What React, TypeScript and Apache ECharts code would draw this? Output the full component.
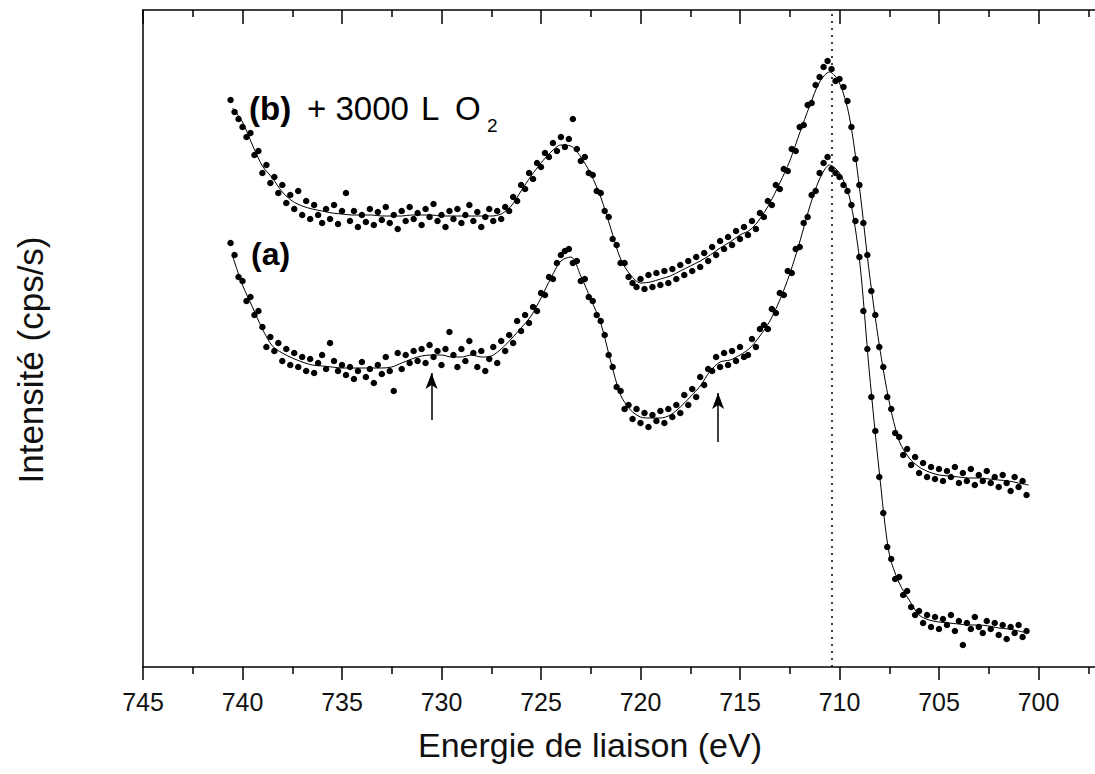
import React, { useEffect, useRef } from "react";
import * as echarts from "echarts";

// Energy sampling of the measured spectra (eV)
const E_START = 740.6;
const E_STEP = 0.2;

// Measured points, spectrum (a) (arbitrary intensity units)
const pointsA = [
  424, 412, 390, 386, 366, 370, 352, 356, 340, 320,
  330, 316, 324, 306, 318, 302, 314, 300, 310, 296,
  308, 294, 304, 312, 298, 324, 306, 296, 302, 292,
  300, 288, 296, 305, 290, 298, 284, 302, 293, 310,
  296, 276, 314, 298, 312, 304, 316, 306, 318, 304,
  322, 310, 316, 302, 318, 335, 312, 300, 318, 306,
  326, 314, 300, 316, 296, 308, 320, 304, 326, 316,
  332, 324, 346, 336, 352, 344, 360, 356, 374, 372,
  390, 388, 404, 412, 416, 418, 404, 406, 386, 388,
  370, 366, 352, 346, 332, 312, 300, 280, 276, 258,
  262, 248, 258, 244, 254, 240, 252, 246, 256, 244,
  258, 250, 262, 254, 272, 262, 278, 270, 290, 282,
  298, 296, 310, 300, 314, 302, 316, 306, 320, 310,
  312, 328, 320, 338, 342, 338, 358, 354, 374, 372,
  396, 394, 418, 420, 444, 450, 472, 476, 494, 504,
  510, 498, 494, 490, 482, 476, 462, 446, 410, 356,
  318, 270, 236, 190, 154, 120, 108, 88, 90, 72,
  76, 60, 52, 56, 44, 52, 40, 50, 38, 48,
  42, 52, 36, 46, 22, 44, 38, 50, 40, 34,
  46, 38, 44, 32, 42, 28, 40, 34, 42, 30,
  36,
];

// Measured points, spectrum (b) + 3000 L O2
const pointsB = [
  567, 555, 548, 540, 530, 534, 512, 516, 494, 502,
  484, 490, 474, 482, 464, 472, 458, 476, 452, 466,
  448, 462, 452, 444, 458, 448, 462, 443, 456, 474,
  446, 456, 440, 452, 445, 458, 442, 455, 447, 460,
  444, 452, 438, 456, 446, 460, 448, 454, 442, 458,
  450, 463, 446, 452, 440, 456, 448, 458, 444, 452,
  462, 446, 455, 440, 450, 458, 446, 456, 448, 460,
  456, 470, 466, 482, 478, 494, 488, 504, 500, 514,
  510, 524, 516, 530, 520, 528, 548, 518, 506, 510,
  494, 492, 476, 474, 456, 450, 428, 422, 404, 404,
  390, 384, 380, 388, 378, 392, 380, 394, 382, 396,
  384, 398, 388, 402, 392, 406, 396, 410, 400, 414,
  406, 420, 412, 426, 418, 430, 422, 436, 428, 440,
  432, 446, 438, 454, 450, 466, 462, 482, 478, 498,
  496, 518, 516, 540, 542, 562, 564, 582, 590, 600,
  606, 598, 586, 588, 580, 566, 540, 508, 482, 444,
  412, 376, 352, 320, 300, 270, 258, 234, 230, 212,
  218, 202, 210, 194, 204, 190, 200, 188, 198, 186,
  196, 190, 200, 184, 194, 186, 198, 182, 192, 186,
  196, 184, 190, 180, 192, 184, 176, 190, 180, 186,
  172,
];

// Fitted envelopes, sampled every 0.5 eV from 740.5 eV
const FIT_START = 740.5;
const FIT_STEP = 0.5;
const fitA = [
  411, 382, 360, 338, 321, 314, 309, 305, 302, 301,
  300, 299, 299, 299, 299, 299, 300, 304, 308, 311,
  312, 312, 310, 310, 312, 310, 311, 318, 328, 339,
  351, 369, 389, 406, 410, 391, 368, 344, 306, 272,
  257, 250, 249, 249, 252, 260, 270, 281, 296, 305,
  307, 312, 319, 331, 346, 367, 393, 425, 460, 488,
  502, 494, 470, 408, 295, 195, 113, 84, 67, 52,
  47, 45, 44, 43, 42, 42, 41, 39, 38, 36,
  34,
];
const fitB = [
  559, 545, 522, 501, 489, 475, 466, 461, 458, 456,
  454, 453, 452, 452, 452, 451, 451, 451, 452, 452,
  452, 451, 451, 451, 451, 451, 451, 453, 461, 476,
  491, 504, 515, 522, 521, 510, 493, 470, 439, 408,
  392, 384, 385, 388, 391, 396, 401, 406, 412, 419,
  425, 432, 437, 448, 464, 484, 506, 534, 561, 585,
  595, 584, 550, 480, 394, 322, 265, 226, 209, 200,
  195, 192, 191, 190, 189, 189, 188, 187, 186, 184,
  182,
];

// Annotations
const peakEnergy = 710.4;
const arrows = [
  { e: 730.5, from: 247, to: 294 },
  { e: 716.1, from: 225, to: 274 },
];

const X_MIN = 695;
const X_MAX = 745;
const Y_MAX = 657;

const FONT = "'Liberation Sans', Arial, Helvetica, sans-serif";

const toPairs = (vals: number[], start: number, step: number) =>
  vals.map((v, i) => [Number((start - i * step).toFixed(2)), v]);

const txt = (x: number, y: number, text: string, fontSize: number, extra: any = {}) => ({
  type: "text",
  x,
  y,
  style: {
    text,
    fontSize,
    fontFamily: FONT,
    fill: "#000",
    textVerticalAlign: "middle",
    ...extra,
  },
});

export default function App() {
  const ref = useRef<HTMLDivElement>(null);

  useEffect(() => {
    if (!ref.current) return;
    const chart = echarts.init(ref.current, undefined, { renderer: "svg" });

    const axisCommon = {
      type: "value" as const,
      min: X_MIN,
      max: X_MAX,
      interval: 5,
      inverse: true,
      splitLine: { show: false },
      minorSplitLine: { show: false },
      axisLine: { show: true, onZero: false, lineStyle: { color: "#000", width: 1.5 } },
    };

    chart.setOption({
      animation: false,
      backgroundColor: "#fff",
      grid: { left: 143, top: 10, height: 657, right: 0, containLabel: false, outerBoundsMode: "none" },
      xAxis: [
        {
          ...axisCommon,
          position: "bottom",
          axisTick: { show: true, inside: false, length: 13, lineStyle: { color: "#000", width: 1.5 } },
          minorTick: { show: true, splitNumber: 2, length: 7, lineStyle: { color: "#000", width: 1.5 } },
          axisLabel: {
            show: true,
            fontSize: 25,
            margin: 22,
            color: "#111",
            fontFamily: FONT,
            showMinLabel: false,
            formatter: (v: number) => (v < 700 ? "" : String(v)),
          },
        },
        {
          ...axisCommon,
          position: "top",
          axisTick: { show: true, inside: true, length: 14, lineStyle: { color: "#000", width: 1.5 } },
          minorTick: { show: true, splitNumber: 2, length: 7, lineStyle: { color: "#000", width: 1.5 } },
          axisLabel: { show: false },
        },
      ],
      yAxis: {
        type: "value",
        min: 0,
        max: Y_MAX,
        axisLine: { show: true, onZero: false, lineStyle: { color: "#000", width: 1.5 } },
        axisTick: { show: false },
        axisLabel: { show: false },
        splitLine: { show: false },
      },
      series: [
        {
          type: "line",
          name: "fit a",
          data: toPairs(fitA, FIT_START, FIT_STEP),
          smooth: 0.3,
          showSymbol: false,
          lineStyle: { color: "#000", width: 1 },
          z: 2,
          markLine: {
            silent: true,
            symbol: ["none", "none"],
            label: { show: false },
            lineStyle: { color: "#000", width: 1.5, type: [2, 5] },
            data: [{ xAxis: peakEnergy }],
          },
        },
        {
          type: "line",
          name: "fit b",
          data: toPairs(fitB, FIT_START, FIT_STEP),
          smooth: 0.3,
          showSymbol: false,
          lineStyle: { color: "#000", width: 1 },
          z: 2,
          markLine: {
            silent: true,
            symbol: ["none", "arrow"],
            symbolSize: [9, 16],
            label: { show: false },
            lineStyle: { color: "#000", width: 1.5, type: "solid" },
            data: arrows.map((a) => [{ coord: [a.e, a.from] }, { coord: [a.e, a.to] }]),
          },
        },
        {
          type: "scatter",
          name: "(a)",
          data: toPairs(pointsA, E_START, E_STEP),
          symbol: "circle",
          symbolSize: 6.5,
          itemStyle: { color: "#000", opacity: 1 },
          z: 3,
        },
        {
          type: "scatter",
          name: "(b)",
          data: toPairs(pointsB, E_START, E_STEP),
          symbol: "circle",
          symbolSize: 6.5,
          itemStyle: { color: "#000", opacity: 1 },
          z: 3,
        },
      ],
      graphic: [
        txt(249, 108, "(b)", 33, { fontWeight: "bold" }),
        txt(307, 108, "+ 3000", 33),
        txt(421, 108, "L", 33),
        txt(455, 108, "O", 33),
        txt(487, 125, "2", 19),
        txt(251, 254, "(a)", 32, { fontWeight: "bold" }),
        txt(590, 745, "Energie de liaison (eV)", 34, { textAlign: "center", fill: "#111" }),
        {
          type: "text",
          x: 30,
          y: 360,
          rotation: Math.PI / 2,
          style: {
            text: "Intensité (cps/s)",
            fontSize: 35,
            fontFamily: FONT,
            fill: "#111",
            textAlign: "center",
            textVerticalAlign: "middle",
          },
        },
      ],
    });

    return () => chart.dispose();
  }, []);

  return (
    <div style={{ position: "fixed", left: 0, top: 0, width: 1095, height: 774, overflow: "hidden", background: "#fff" }}>
      <div ref={ref} style={{ position: "absolute", left: 0, top: 0, width: 1138, height: 774 }} />
    </div>
  );
}
